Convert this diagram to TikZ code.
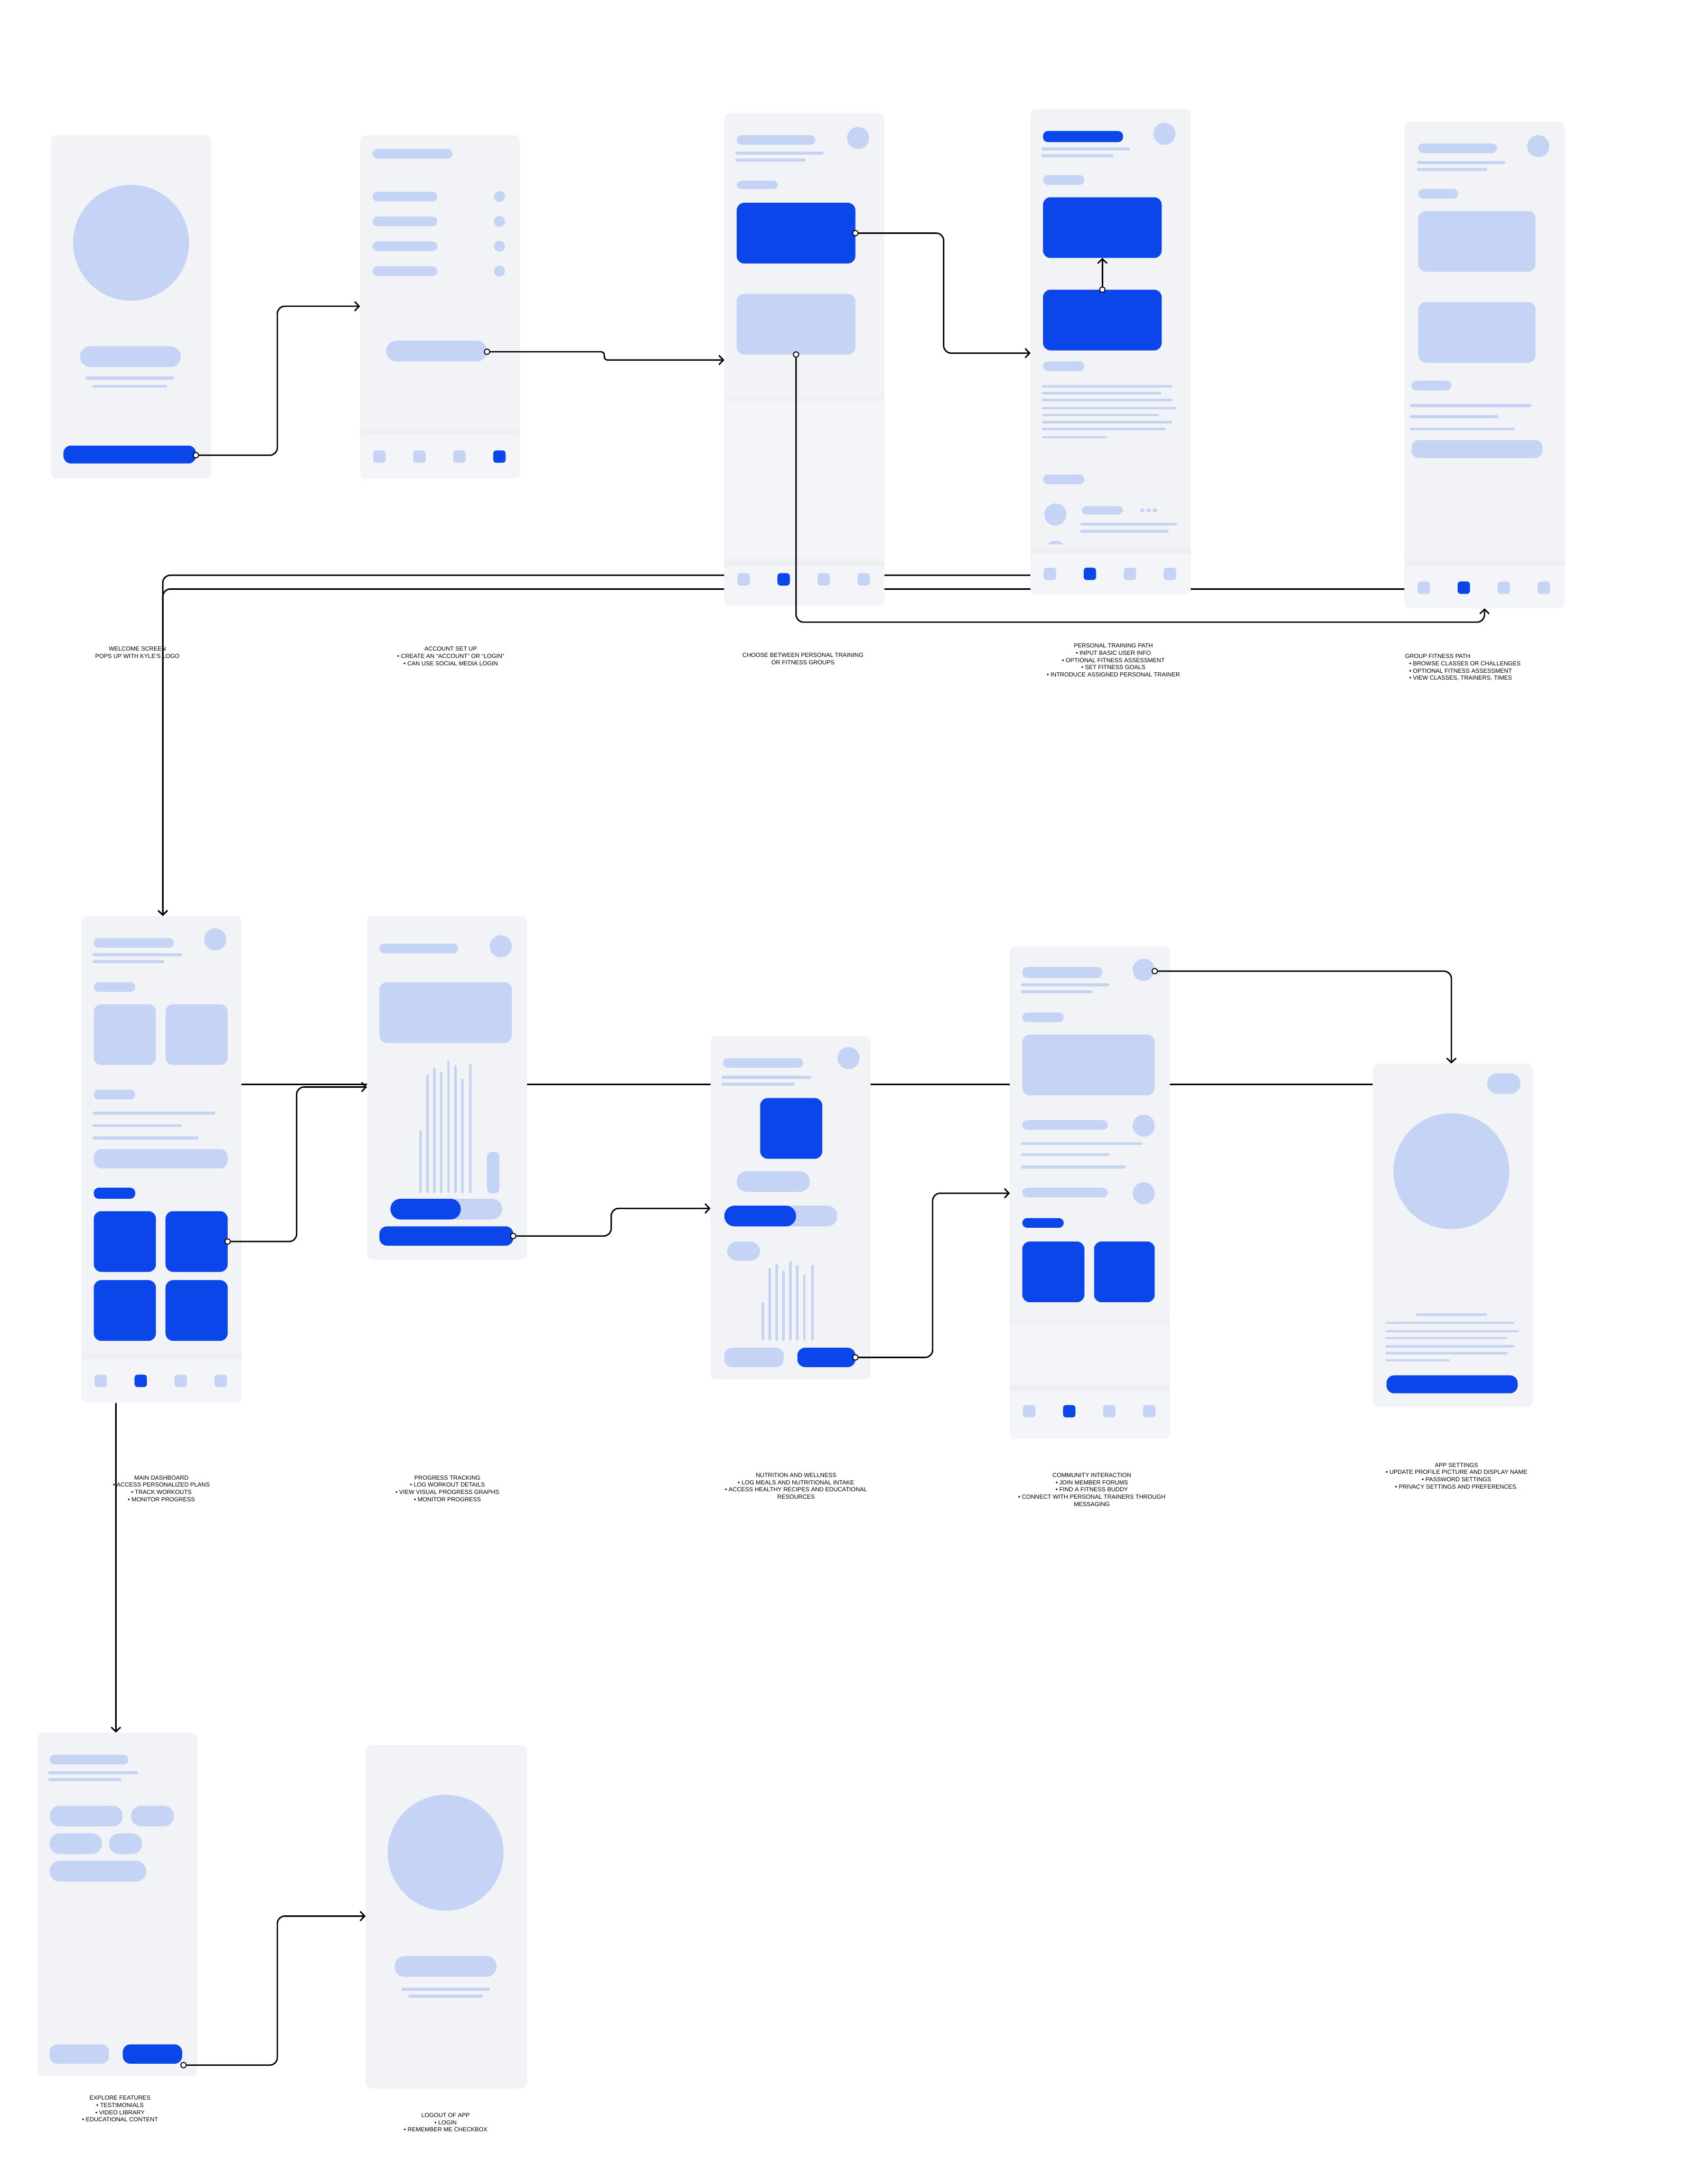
\documentclass[tikz,border=0pt]{standalone}
\usepackage{fontspec}
\setmainfont{Liberation Sans}
\usetikzlibrary{arrows.meta}

\definecolor{scr}{HTML}{F2F3F7}
\definecolor{barbg}{HTML}{F4F5F8}
\definecolor{ph}{HTML}{C5D3F5}
\definecolor{dk}{HTML}{0A46EA}

% tab bar: left x, bar top, bar bottom, icon centre y, active icon
\newcommand{\tabbar}[5]{%
  \shade[top color=scr, bottom color=black!7] (#1,#2-6) rectangle (#1+116,#2);
  \fill[barbg, rounded corners=3pt] (#1,#2) rectangle (#1+116,#3);
  \foreach \i in {0,1,2,3}{%
    \ifnum\i=#5 \def\tabcol{dk}\else\def\tabcol{ph}\fi
    \fill[\tabcol, rounded corners=1.5pt] (#1+9.5+29*\i,#4-4.5) rectangle ++(9,9);
  }}
% lighter panel with a soft shadow
\newcommand{\panel}[3]{%
  \shade[top color=scr, bottom color=black!6] (#1,#2-6) rectangle (#1+116,#2);
  \fill[barbg] (#1,#2) rectangle (#1+116,#3);}

\begin{document}
\begin{tikzpicture}[x=0.026115cm, y=-0.026115cm,
    screen/.style={fill=scr, rounded corners=3pt},
    pill/.style={rounded corners=2.6pt},
    bigpill/.style={rounded corners=5.5pt},
    card/.style={rounded corners=4pt},
    txt/.style={draw=ph, line width=1.6pt, line cap=round},
    thintxt/.style={draw=ph, line width=1.25pt, line cap=round},
    bars/.style={draw=ph, line width=1.4pt, line cap=round},
    wire/.style={draw=black, line width=0.75pt, rounded corners=4pt},
    flow/.style={wire, -{Straight Barb[length=2.4pt,width=5pt]}},
    dot/.style={circle, draw=black, fill=white, line width=0.5pt, inner sep=0pt, minimum size=3pt},
    caption/.style={font=\fontsize{3.2}{3.9}\selectfont, align=center, inner sep=0pt, anchor=north}]

    \useasboundingbox[fill=white] (0,0) rectangle (1238,1568);

    % connector end points
    \coordinate (welcomeBtn) at (142,330);
    \coordinate (acctIn) at (261,222);
    \coordinate (acctBtn) at (353,255);
    \coordinate (chooseIn) at (525,261);
    \coordinate (ptCard) at (620,169);
    \coordinate (ptIn) at (747,256);
    \coordinate (groupCard) at (577,257);
    \coordinate (groupIn) at (1076,441);
    \coordinate (ptLower) at (799,210);
    \coordinate (ptUpper) at (799,187);
    \coordinate (ptOut) at (747,417);
    \coordinate (groupOut) at (1018,427);
    \coordinate (dashIn) at (118,664);
    \coordinate (dashOut) at (84,1010);
    \coordinate (exploreIn) at (84,1256);
    \coordinate (dashSide) at (175,786);
    \coordinate (setSide) at (995,786);
    \coordinate (dashGrid) at (165,900);
    \coordinate (progIn) at (266,788);
    \coordinate (progBtn) at (372,896);
    \coordinate (nutriIn) at (515,876);
    \coordinate (nutriBtn) at (620,984);
    \coordinate (commIn) at (732,865);
    \coordinate (commAvatar) at (837,704);
    \coordinate (setIn) at (1052,771);
    \coordinate (exploreBtn) at (133,1497);
    \coordinate (logoutIn) at (265,1389);

    % long connectors behind the screens
    \draw[flow] (ptOut) -| (dashIn);
    \draw[flow] (groupOut) -| (dashIn);
    \draw[wire] (dashSide) -- (setSide);
    \draw[flow] (dashOut) -- (exploreIn);

    % welcome screen
    \fill[screen] (37,98) rectangle (153,347);
    \fill[ph] (95,176) circle[radius=42];
    \fill[ph, bigpill] (58,251) rectangle (131,266);
    \draw[txt] (63,274) -- (125,274);
    \draw[txt] (68,280) -- (120,280);
    \fill[dk, card] (46,323) rectangle (142,336);

    % account set up
    \fill[screen] (261,98) rectangle (377,347);
    \fill[ph, pill] (270,108) rectangle (328,115);
    \foreach \y in {139,157,175,193}{
        \fill[ph, pill] (270,\y) rectangle (317,\y+7);
        \fill[ph] (362,\y+3.5) circle[radius=4];
    }
    \fill[ph, bigpill] (280,247) rectangle (353,262);
    \tabbar{261}{315}{347}{331}{3}

    % choose path
    \fill[screen] (525,82) rectangle (641,439);
    \fill[ph, pill] (534,98) rectangle (591,105);
    \fill[ph] (622,100) circle[radius=8];
    \draw[txt] (534,111) -- (596,111);
    \draw[txt] (534,116) -- (583,116);
    \fill[ph, pill] (534,131) rectangle (564,137);
    \fill[dk, card] (534,147) rectangle (620,191);
    \fill[ph, card] (534,213) rectangle (620,257);
    \panel{525}{291}{410}
    \tabbar{525}{410}{439}{420}{1}

    % personal training path
    \fill[screen] (747,79) rectangle (863,431);
    \fill[dk, pill] (756,95) rectangle (814,103);
    \draw[txt] (756,108) -- (818,108);
    \draw[txt] (756,113) -- (806,113);
    \fill[ph] (844,97) circle[radius=8];
    \fill[ph, pill] (756,127) rectangle (786,134);
    \fill[dk, card] (756,143) rectangle (842,187);
    \fill[dk, card] (756,210) rectangle (842,254);
    \fill[ph, pill] (756,262) rectangle (786,269);
    \foreach \y/\xe in {280/849, 285/841, 290/849, 296/852, 301/839, 306/849, 311/844, 317/802}
        \draw[thintxt] (756,\y) -- (\xe,\y);
    \fill[ph, pill] (756,344) rectangle (786,351);
    \fill[ph] (765,373) circle[radius=8];
    \fill[ph, pill] (784,367) rectangle (814,373);
    \foreach \x in {828,832.5,837}
        \fill[ph] (\x,370) circle[radius=1.6];
    \draw[txt] (784,380) -- (852,380);
    \draw[txt] (784,385) -- (846,385);
    \fill[ph] (765,400) circle[radius=8];
    \fill[ph, pill] (784,395) rectangle (814,401);
    \tabbar{747}{401}{431}{416}{1}

    % group fitness path
    \fill[screen] (1018,88) rectangle (1134,441);
    \fill[ph, pill] (1028,104) rectangle (1085,111);
    \draw[txt] (1028,118) -- (1090,118);
    \draw[txt] (1028,123) -- (1077,123);
    \fill[ph] (1115,106) circle[radius=8];
    \fill[ph, pill] (1028,137) rectangle (1057,144);
    \fill[ph, card] (1028,153) rectangle (1113,197);
    \fill[ph, card] (1028,219) rectangle (1113,263);
    \fill[ph, pill] (1023,276) rectangle (1052,283);
    \draw[txt] (1023,294) -- (1109,294);
    \draw[txt] (1023,302) -- (1085,302);
    \draw[txt] (1023,311) -- (1097,311);
    \fill[ph, card] (1023,319) rectangle (1118,332);
    \tabbar{1018}{410}{441}{426}{1}

    % main dashboard
    \fill[screen] (59,664) rectangle (175,1017);
    \fill[ph, pill] (68,680) rectangle (126,687);
    \draw[txt] (68,692) -- (131,692);
    \draw[txt] (68,697) -- (118,697);
    \fill[ph] (156,681) circle[radius=8];
    \fill[ph, pill] (68,712) rectangle (98,719);
    \fill[ph, card] (68,728) rectangle (113,772);
    \fill[ph, card] (120,728) rectangle (165,772);
    \fill[ph, pill] (68,790) rectangle (98,797);
    \draw[txt] (68,807) -- (155,807);
    \draw[txt] (68,816) -- (131,816);
    \draw[txt] (68,825) -- (143,825);
    \fill[ph, card] (68,833) rectangle (165,847);
    \fill[dk, pill] (68,861) rectangle (98,869);
    \foreach \x/\y in {68/878, 120/878, 68/928, 120/928}
        \fill[dk, card] (\x,\y) rectangle (\x+45,\y+44);
    \tabbar{59}{985}{1017}{1001}{1}

    % progress tracking
    \fill[screen] (266,664) rectangle (382,913);
    \fill[ph, pill] (275,684) rectangle (332,691);
    \fill[ph] (363,686) circle[radius=8];
    \fill[ph, card] (275,712) rectangle (371,756);
    \foreach \x/\t in {305/820, 310/780, 315/775, 320/778, 325/770, 330/773, 335/783, 341/772}
        \draw[bars] (\x,\t) -- (\x,864);
    \fill[ph, rounded corners=2.5pt] (353,835) rectangle (362,865);
    \fill[ph, bigpill] (283,869) rectangle (364,884);
    \fill[dk, bigpill] (283,869) rectangle (334,884);
    \fill[dk, card] (275,889) rectangle (372,903);

    % nutrition and wellness
    \fill[screen] (515,751) rectangle (631,1000);
    \fill[ph, pill] (524,767) rectangle (582,774);
    \draw[txt] (524,781) -- (587,781);
    \draw[txt] (524,786) -- (575,786);
    \fill[ph] (615,767) circle[radius=8];
    \fill[dk, card] (551,796) rectangle (596,840);
    \fill[ph, bigpill] (534,849) rectangle (587,864);
    \fill[ph, bigpill] (525,874) rectangle (607,889);
    \fill[dk, bigpill] (525,874) rectangle (577,889);
    \fill[ph, bigpill] (527,900) rectangle (551,914);
    \foreach \x/\t in {553/945, 558/920, 563/917, 568/922, 573/915, 578/918, 583/925, 589/918}
        \draw[bars] (\x,\t) -- (\x,971);
    \fill[ph, card] (525,977) rectangle (568,991);
    \fill[dk, card] (578,977) rectangle (620,991);

    % community interaction
    \fill[screen] (732,686) rectangle (848,1043);
    \fill[ph, pill] (741,701) rectangle (799,709);
    \draw[txt] (741,714) -- (803,714);
    \draw[txt] (741,719) -- (791,719);
    \fill[ph] (829,703) circle[radius=8];
    \fill[ph, pill] (741,734) rectangle (771,741);
    \fill[ph, card] (741,750) rectangle (837,794);
    \fill[ph, pill] (741,812) rectangle (803,819);
    \fill[ph] (829,816) circle[radius=8];
    \draw[txt] (741,829) -- (827,829);
    \draw[txt] (741,837) -- (803,837);
    \draw[txt] (741,846) -- (815,846);
    \fill[ph, pill] (741,861) rectangle (803,868);
    \fill[ph] (829,865) circle[radius=8];
    \fill[dk, pill] (741,883) rectangle (771,890);
    \fill[dk, card] (741,900) rectangle (786,944);
    \fill[dk, card] (793,900) rectangle (837,944);
    \panel{732}{960}{1008}
    \tabbar{732}{1008}{1043}{1023}{1}

    % app settings
    \fill[screen] (995,771) rectangle (1111,1020);
    \fill[ph, bigpill] (1078,778) rectangle (1102,793);
    \fill[ph] (1052,849) circle[radius=42];
    \draw[thintxt] (1027,953) -- (1077,953);
    \foreach \y/\xe in {959/1097, 965/1100, 970/1092, 976/1097, 981/1092, 986/1050}
        \draw[thintxt] (1005,\y) -- (\xe,\y);
    \fill[dk, card] (1005,997) rectangle (1100,1010);

    % explore features
    \fill[screen] (27,1256) rectangle (143,1505);
    \fill[ph, pill] (36,1272) rectangle (93,1279);
    \draw[txt] (36,1285) -- (99,1285);
    \draw[txt] (36,1290) -- (87,1290);
    \fill[ph, bigpill] (36,1309) rectangle (89,1324);
    \fill[ph, bigpill] (95,1309) rectangle (126,1324);
    \fill[ph, bigpill] (36,1329) rectangle (74,1344);
    \fill[ph, bigpill] (79,1329) rectangle (103,1344);
    \fill[ph, bigpill] (36,1349) rectangle (106,1364);
    \fill[ph, card] (36,1482) rectangle (79,1496);
    \fill[dk, card] (89,1482) rectangle (132,1496);

    % logout
    \fill[screen] (265,1265) rectangle (382,1514);
    \fill[ph] (323,1343) circle[radius=42];
    \fill[ph, bigpill] (286,1418) rectangle (360,1433);
    \draw[txt] (292,1442) -- (354,1442);
    \draw[txt] (297,1447) -- (349,1447);

    % connectors between screens
    \draw[flow] (welcomeBtn) -- ++(59,0) |- (acctIn);
    \draw[flow, rounded corners=1.8pt] (acctBtn) -- ++(85,0) |- (chooseIn);
    \draw[flow] (ptCard) -- ++(64,0) |- (ptIn);
    \draw[flow] (groupCard) -- ++(0,194) -| (groupIn);
    \draw[flow] (ptLower) -- (ptUpper);
    \draw[flow] (dashGrid) -- ++(50,0) |- (progIn);
    \draw[flow] (progBtn) -- ++(71,0) |- (nutriIn);
    \draw[flow] (nutriBtn) -- ++(56,0) |- (commIn);
    \draw[flow] (commAvatar) -| (setIn);
    \draw[flow] (exploreBtn) -- ++(68,0) |- (logoutIn);
    \foreach \p in {welcomeBtn, acctBtn, ptCard, groupCard, ptLower, dashGrid, progBtn, nutriBtn, commAvatar, exploreBtn}
        \node[dot] (dot-\p) at (\p) {};

    % captions
    \node[caption] (capWelcome) at (99.6,468.6) {WELCOME SCREEN\\POPS UP WITH KYLE'S LOGO};
    \node[caption] (capAccount) at (326.7,468.6) {ACCOUNT SET UP\\• CREATE AN “ACCOUNT” OR “LOGIN”\\• CAN USE SOCIAL MEDIA LOGIN};
    \node[caption] (capChoose) at (582,473.1) {CHOOSE BETWEEN PERSONAL TRAINING\\OR FITNESS GROUPS};
    \node[caption] (capPersonal) at (807,466.3) {PERSONAL TRAINING PATH\\• INPUT BASIC USER INFO\\• OPTIONAL FITNESS ASSESSMENT\\• SET FITNESS GOALS\\• INTRODUCE ASSIGNED PERSONAL TRAINER};
    \node[caption, align=left, anchor=north west] (capGroup) at (1018.2,474) {GROUP FITNESS PATH\\\hspace*{2.2pt}• BROWSE CLASSES OR CHALLENGES\\\hspace*{2.2pt}• OPTIONAL FITNESS ASSESSMENT\\\hspace*{2.2pt}• VIEW CLASSES, TRAINERS, TIMES};
    \node[caption] (capDash) at (117,1069.4) {MAIN DASHBOARD\\• ACCESS PERSONALIZED PLANS\\• TRACK WORKOUTS\\• MONITOR PROGRESS};
    \node[caption] (capProgress) at (324.3,1069.4) {PROGRESS TRACKING\\• LOG WORKOUT DETAILS\\• VIEW VISUAL PROGRESS GRAPHS\\• MONITOR PROGRESS};
    \node[caption] (capNutrition) at (577,1067.6) {NUTRITION AND WELLNESS\\• LOG MEALS AND NUTRITIONAL INTAKE\\• ACCESS HEALTHY RECIPES AND EDUCATIONAL\\RESOURCES};
    \node[caption] (capCommunity) at (791.4,1067.6) {COMMUNITY INTERACTION\\• JOIN MEMBER FORUMS\\• FIND A FITNESS BUDDY\\• CONNECT WITH PERSONAL TRAINERS THROUGH\\MESSAGING};
    \node[caption] (capSettings) at (1055.7,1060.2) {APP SETTINGS\\• UPDATE PROFILE PICTURE AND DISPLAY NAME\\• PASSWORD SETTINGS\\• PRIVACY SETTINGS AND PREFERENCES.};
    \node[caption] (capExplore) at (87,1519) {EXPLORE FEATURES\\• TESTIMONIALS\\• VIDEO LIBRARY\\• EDUCATIONAL CONTENT};
    \node[caption] (capLogout) at (323,1531.6) {LOGOUT OF APP\\• LOGIN\\• REMEMBER ME CHECKBOX};
\end{tikzpicture}
\end{document}
